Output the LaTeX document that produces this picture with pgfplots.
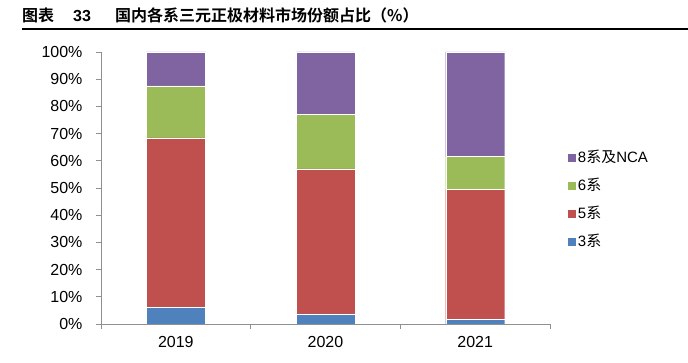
\documentclass[border=0pt]{standalone}
\usepackage{pgfplots}
\pgfplotsset{compat=1.18}
\usepackage{fontspec}
\setmainfont{Liberation Sans}
\newfontfamily\cjk{Noto Sans CJK SC}[BoldFont=Noto Sans CJK SC Bold]
\definecolor{cblue}{HTML}{4F81BD}
\definecolor{cred}{HTML}{C0504D}
\definecolor{cgreen}{HTML}{9BBB59}
\definecolor{cpurple}{HTML}{8064A2}
\definecolor{axgray}{HTML}{909090}
\begin{document}
\begin{tikzpicture}
\path[use as bounding box] (0pt,0pt) rectangle (688pt,363pt);
\node[anchor=base west, inner sep=0] at (22pt,341pt) {\fontsize{16}{18}\selectfont\cjk\bfseries 图表};
\node[anchor=base west, inner sep=0] at (73pt,341pt) {\fontsize{16}{18}\selectfont\bfseries 33};
\node[anchor=base west, inner sep=0] at (115pt,341pt) {\fontsize{16}{18}\selectfont\cjk\bfseries 国内各系三元正极材料市场份额占比（\%）};
\draw[line width=1.2pt] (22pt,334pt) -- (688pt,334pt);
\begin{axis}[
  at={(101pt,39pt)}, anchor=south west,
  scale only axis, width=449pt, height=272pt,
  ybar stacked, bar width=59pt,
  xmin=-0.5, xmax=2.5, ymin=0, ymax=100,
  axis lines*=left,
  axis line style={axgray, line width=0.8pt},
  xtick={0,1,2}, xticklabels={2019,2020,2021},
  major x tick style={draw=none},
  minor xtick={-0.5,0.5,1.5,2.5},
  minor x tick style={axgray, line width=0.8pt},
  minor tick length=5pt,
  ytick={0,10,...,100},
  y tick style={axgray, line width=0.8pt},
  major tick length=5pt,
  tick align=outside,
  yticklabel={\pgfmathprintnumber{\tick}\%},
  /pgf/number format/assume math mode=true,
  ticklabel style={font=\fontsize{16}{18}\selectfont, black},
  xticklabel style={yshift=-4pt},
  yticklabel style={xshift=-10pt},
  reverse legend,
  legend style={at={(1.03,0.654)}, anchor=north west, draw=none, fill=none,
    font=\fontsize{15}{17}\selectfont, row sep=10pt, nodes={inner xsep=2pt}},
  legend cell align=left,
  legend image code/.code={\fill[#1] (0pt,-4.5pt) rectangle (9pt,4.5pt);},
  every axis plot/.append style={draw=white, line width=0.3pt},
]
\addplot[fill=cblue] coordinates {(0,6.1) (1,3.7) (2,1.6)};
\addplot[fill=cred] coordinates {(0,62.3) (1,53.3) (2,47.8)};
\addplot[fill=cgreen] coordinates {(0,19.1) (1,20.0) (2,12.3)};
\addplot[fill=cpurple] coordinates {(0,12.5) (1,23.0) (2,38.3)};
\legend{3{\cjk 系},5{\cjk 系},6{\cjk 系},8{\cjk 系及}NCA}
\end{axis}
\end{tikzpicture}
\end{document}
